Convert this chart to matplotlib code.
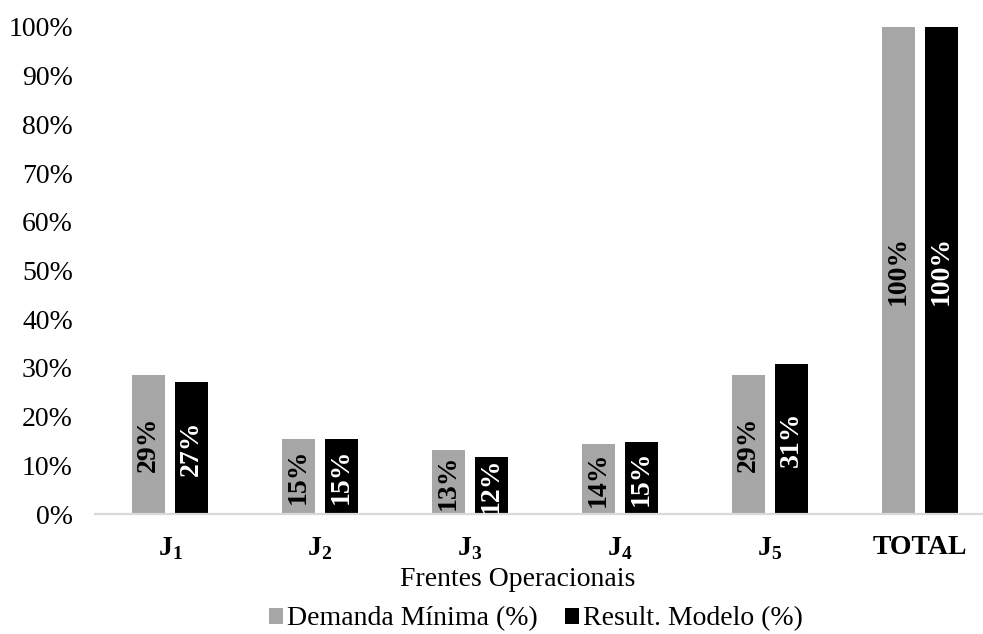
import matplotlib
matplotlib.use("Agg")
import matplotlib.pyplot as plt
from matplotlib.patches import Patch
import numpy as np

plt.rcParams["font.family"] = ["Liberation Serif", "DejaVu Serif"]
plt.rcParams["mathtext.fontset"] = "custom"
plt.rcParams["mathtext.rm"] = "Liberation Serif"
plt.rcParams["mathtext.bf"] = "Liberation Serif:bold"

# Data (percent)
categories = [r"$\mathbf{J}_{\mathbf{1}}$", r"$\mathbf{J}_{\mathbf{2}}$", r"$\mathbf{J}_{\mathbf{3}}$",
              r"$\mathbf{J}_{\mathbf{4}}$", r"$\mathbf{J}_{\mathbf{5}}$", "TOTAL"]
demanda_minima = [28.6, 15.4, 13.1, 14.4, 28.6, 100.0]
result_modelo = [27.2, 15.4, 11.7, 14.7, 30.7, 100.0]
series_names = ["Demanda Mínima (%)", "Result. Modelo (%)"]
y_ticks = [0, 10, 20, 30, 40, 50, 60, 70, 80, 90, 100]

W, H = 983, 634
fig = plt.figure(figsize=(W / 100, H / 100), dpi=100)
ax = fig.add_axes([95 / W, (H - 514) / H, (W - 95) / W, (514 - 27) / H])

gray = "#a6a6a6"
black = "#000000"
x = np.arange(len(categories))
bw = 0.22
off = 0.143

bars_a = ax.bar(x - off, demanda_minima, bw, color=gray, zorder=2)
bars_b = ax.bar(x + off, result_modelo, bw, color=black, zorder=2)

fs = 20
for bars, vals, tc in [(bars_a, demanda_minima, "black"), (bars_b, result_modelo, "white")]:
    for b, v in zip(bars, vals):
        ax.text(b.get_x() + b.get_width() / 2, v / 2, f"{v:.0f}%", rotation=90,
                ha="center", va="center", color=tc, fontsize=fs, fontweight="bold", zorder=3)

ax.set_xlim(-0.5, 5.5 - 12 / 150)
ax.set_ylim(0, 100)
ax.set_yticks(y_ticks)
ax.set_yticklabels([f"{t}%" for t in y_ticks], fontsize=fs)
ax.set_xticks(x)
ax.set_xticklabels(categories, fontsize=fs, fontweight="bold")
ax.tick_params(axis="y", length=0, pad=16, colors="#000000")
ax.tick_params(axis="x", length=0, pad=15, colors="#000000")

for s in ["top", "right", "left"]:
    ax.spines[s].set_visible(False)
ax.spines["bottom"].set_color("#d9d9d9")
ax.spines["bottom"].set_linewidth(1.6)

fig.text(518 / W, 1 - 580 / H, "Frentes Operacionais", ha="center", va="center", fontsize=fs)

handles = [Patch(facecolor=gray, edgecolor="none"), Patch(facecolor=black, edgecolor="none")]
fig.legend(handles, series_names, loc="center", bbox_to_anchor=(536 / W, 1 - 619 / H),
           ncol=2, frameon=False, fontsize=fs, handlelength=0.5, handleheight=0.5,
           handletextpad=0.15, columnspacing=1.0, borderpad=0)

fig.savefig("out.png", dpi=100, facecolor="white")
